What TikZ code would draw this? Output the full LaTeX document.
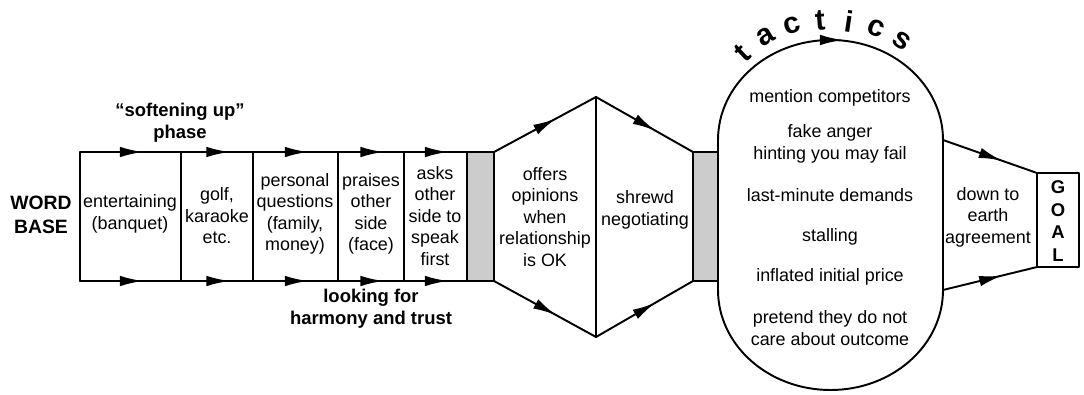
\documentclass[tikz,border=0pt]{standalone}
\usepackage{fontspec}
\setmainfont{Liberation Sans}
\usetikzlibrary{arrows.meta,decorations.markings}
\tikzset{
  midarrow/.style={postaction={decorate},decoration={markings,
    mark=at position 0.5 with {\arrow[xshift=7pt]{Latex[length=13pt,width=6pt]}}}},
  boxtext/.style={align=center,inner sep=0pt,font=\fontsize{10.2}{12.2}\selectfont},
  boldtext/.style={align=center,inner sep=0pt,font=\fontsize{10.5}{12.5}\selectfont\bfseries},
  tacletter/.style={inner sep=0pt,font=\fontsize{17}{19}\selectfont\bfseries},
  divider/.style={fill=gray!40},
}
\begin{document}
\begin{tikzpicture}[x=0.02cm,y=-0.02cm,line width=1.1pt,line cap=round,line join=round]
\useasboundingbox (0,0) rectangle (1084,395);

\foreach \xa/\xb in {80/181,181/253,253/338,338/404,404/467}{
  \draw[midarrow] (\xa,152) -- (\xb,152);
  \draw[midarrow] (\xa,281) -- (\xb,281);
}
\foreach \xx in {80,181,253,338,404} \draw (\xx,152) -- (\xx,281);
\filldraw[divider] (467,152) rectangle (494,281);

\draw[midarrow] (494,152) -- (596,97);
\draw[midarrow] (596,97) -- (693,152);
\draw[midarrow] (494,281) -- (596,337);
\draw[midarrow] (596,337) -- (693,281);
\draw (596,97) -- (596,337);
\filldraw[divider] (693,152) rectangle (718,281);

\draw (943,140) -- (943,290) arc[start angle=0,end angle=180,x radius=112.5,y radius=100] -- (718,140);
\draw[midarrow] (718,140) arc[start angle=180,end angle=360,x radius=112.5,y radius=100];

\draw[midarrow] (943,140) -- (1037,173);
\draw[midarrow] (943,290) -- (1037,267);
\draw (1037,173) rectangle (1079,267);

\node[boldtext,font=\fontsize{11}{14}\selectfont\bfseries] (base) at (41,215) {WORD\\BASE};
\node[boldtext] (soften) at (180,123) {“softening up”\\phase};
\node[boldtext] (harmony) at (371,309) {looking for\\harmony and trust};

\node[boxtext] (entertain) at (130,214) {entertaining\\(banquet)};
\node[boxtext] (golf) at (217,216) {golf,\\karaoke\\etc.};
\node[boxtext] (personal) at (295,214) {personal\\questions\\(family,\\money)};
\node[boxtext] (praise) at (371,214) {praises\\other\\side\\(face)};
\node[boxtext] (asks) at (435,216) {asks\\other\\side to\\speak\\first};
\node[boxtext] (offers) at (545,217) {offers\\opinions\\when\\relationship\\is OK};
\node[boxtext] (shrewd) at (645,210) {shrewd\\negotiating};
\node[boxtext] (earth) at (988,217) {down to\\earth\\agreement};
\node[boldtext,font=\fontsize{10.5}{12.8}\selectfont\bfseries] (goal) at (1058,221) {G\\O\\A\\L};

\foreach \txt/\yy [count=\i] in {mention competitors/98,{fake anger\\hinting you may fail}/144,last-minute demands/195,stalling/237,inflated initial price/277,{pretend they do not\\care about outcome}/328}
  \node[boxtext] (tactic\i) at (830,\yy) {\txt};

\foreach \l [count=\i] in {t,a,c,t,i,c,s}{
  \pgfmathsetmacro{\ang}{133.5-13*(\i-1)}
  \node[tacletter,rotate=\ang-90] (tac\i) at ({830+127*cos(\ang)},{140-120*sin(\ang)}) {\l};
}
\end{tikzpicture}
\end{document}
